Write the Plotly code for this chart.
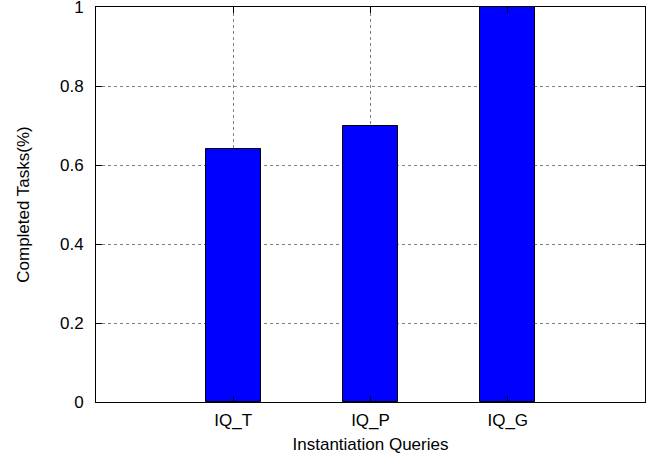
import plotly.graph_objects as go

# Completed task ratio per instantiation query type
categories = ["IQ_T", "IQ_P", "IQ_G"]
completed = [0.64, 0.70, 1.0]
y_ticks = [0, 0.2, 0.4, 0.6, 0.8, 1]
y_tick_labels = ["0", "0.2", "0.4", "0.6", "0.8", "1"]

positions = list(range(1, len(categories) + 1))

font_family = "Liberation Sans, Arial, sans-serif"
font_size = 17

fig = go.Figure(
    go.Bar(
        x=positions,
        y=completed,
        width=0.4,
        marker=dict(color="#0000ff", line=dict(color="#000000", width=1)),
        showlegend=False,
    )
)

axis_common = dict(
    showline=True,
    linecolor="#000000",
    linewidth=1,
    mirror="allticks",
    ticks="inside",
    ticklen=6,
    tickcolor="#000000",
    showgrid=True,
    gridcolor="#808080",
    griddash="dot",
    gridwidth=1,
    zeroline=False,
    automargin=False,
    ticklabeloverflow="allow",
    tickfont=dict(family=font_family, size=font_size, color="#000000"),
)

fig.update_xaxes(
    range=[0, len(categories) + 1],
    tickvals=positions,
    ticktext=categories,
    ticklabelstandoff=3,
    title=dict(text="Instantiation Queries", font=dict(family=font_family, size=font_size, color="#000000"), standoff=8),
    **axis_common,
)
fig.update_yaxes(
    range=[0, 1],
    tickvals=y_ticks,
    ticktext=y_tick_labels,
    ticklabelstandoff=8,
    title=dict(text="Completed Tasks(%)", font=dict(family=font_family, size=font_size, color="#000000"), standoff=26),
    **axis_common,
)

fig.update_layout(
    width=661,
    height=459,
    margin=dict(l=96, r=16, t=7, b=57),
    plot_bgcolor="#ffffff",
    paper_bgcolor="#ffffff",
    bargap=0,
    font=dict(family=font_family, size=font_size, color="#000000"),
)

fig.write_html("out.html")
